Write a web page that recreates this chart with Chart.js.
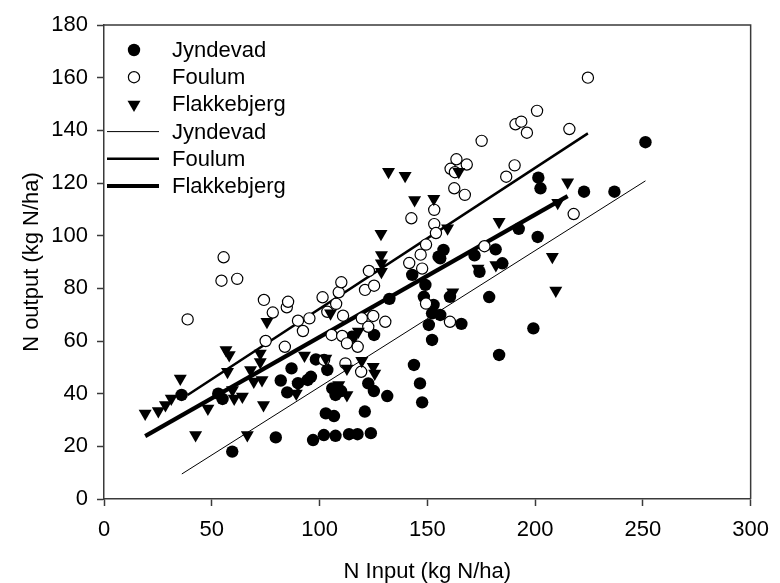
<!DOCTYPE html>
<html>
<head>
<meta charset="utf-8">
<script src="https://cdn.jsdelivr.net/npm/chart.js@4/dist/chart.umd.min.js"></script>
<style>
html,body{margin:0;padding:0;background:#fff;}
#wrap{width:780px;height:583px;position:relative;}
</style>
</head>
<body>
<div id="wrap"><canvas id="c" width="780" height="583"></canvas></div>
<script>
// ---- Data ----
const seriesNames = ["Jyndevad", "Foulum", "Flakkebjerg"];

const jyndevadX = [36,55,53,59.5,79.7,82,85,87,90,94.5,96,97,98.3,102,102.9,103.6,105.9,106.7,107.4,107.4,110,113.7,115,117.6,121,122.6,123.8,125.2,125.3,131.4,132.4,143,143.8,146.6,147.6,148.4,149.1,150.7,152.2,152.2,152.9,155.2,156,156,157.5,160.5,165.8,171.9,174.2,178.7,181.7,183.3,184.8,192.4,199.2,201.2,201.5,202.5,222.7,236.8,251.2];
const jyndevadY = [39.5,38,40,18,23.4,45,40.5,49.6,44,45.2,46.4,22.4,53,24.3,32.5,49,42,31.5,24,39.5,41,24.6,61.6,24.6,33.2,43.9,25,41,62.3,39.1,76,85.1,50.9,43.9,36.7,76.8,81.3,66.1,60.4,70.5,73.7,92,69.9,91.4,94.6,76.8,66.5,92.5,86.3,76.7,94.8,54.7,89.5,102.6,64.8,99.5,122,118,116.7,116.7,135.5];

const foulumX = [38.8,54.5,55.5,61.8,74.2,75,78.3,83.9,84.8,85.4,90,92.3,95.3,101.4,102.1,103.6,105.6,107.7,108.9,110.1,110.5,110.9,112,112.7,117.7,119.3,119.6,121.1,122.6,122.9,124.9,125.3,130.5,141.6,142.6,146.9,147.6,149.4,149.4,153.2,153.2,154,160.5,160.8,162.5,162.8,163.5,167.4,168.3,175.2,176.5,186.6,190.5,190.9,193.6,196.2,200.9,215.9,217.9,224.5];
const foulumY = [68.2,82.9,91.8,83.6,75.6,60,70.8,57.8,72.8,74.9,67.7,63.8,68.6,76.6,52.8,71.1,62.3,74.1,78.5,82.3,61.9,69.6,51.5,59.1,57.8,48.3,68.6,79.4,65.4,86.6,69.5,81,67.3,89.6,106.6,92.8,87.5,96.6,74.2,109.8,104.4,101,67.3,125.4,118,124.1,129,115.5,127,136,96,122.4,126.7,142.3,143.3,139.1,147.4,140.5,108.2,160];

const flakkebjergX = [19.1,25.2,28.5,31.2,35.4,42.5,48.2,56.6,58.1,57.3,59.6,60.4,64.2,66.5,68,69.5,72.5,72.5,73.3,74,75.6,89.2,90,93,102.9,105.1,108.9,112.7,112.7,118,119.6,124.9,125.6,128.5,128.7,128.7,128.7,132,139.7,144.1,153,156,159.4,161.8,164.6,173.5,181.8,183.3,208,209.6,210.5,215.1];
const flakkebjergY = [32.5,33.4,35.7,38.2,45.8,24.3,34.4,56.6,54.7,48.3,41.4,38.2,38.9,24.3,49,44.6,55.3,52,45.2,35.7,67.3,40.1,43.3,54.5,53.4,70.5,43.3,39.5,49.6,63.6,52.5,50.2,47.7,100.7,92.7,89.5,86.3,124.3,122.8,113.5,114,92,102.8,78.5,124.3,87.5,88.9,105.3,92,79.2,112.5,120.3];

// Regression lines: slope, intercept, x-range
const fitSlope     = [0.5175, 0.535, 0.4648];
const fitIntercept = [-9.18, 18.74, 15.02];
const fitXMin      = [36.1, 38.8, 19.1];
const fitXMax      = [251.2, 224.5, 215.1];

const xTicks = [0, 50, 100, 150, 200, 250, 300];
const yTicks = [0, 20, 40, 60, 80, 100, 120, 140, 160, 180];

// ---- Build ----
function pts(xs, ys){ return xs.map((x,i)=>({x:x, y:ys[i]})); }
function fitLine(i){
  return [fitXMin[i], fitXMax[i]].map(x=>({x:x, y:fitIntercept[i] + fitSlope[i]*x}));
}
const FONT = "'Liberation Sans', Arial, sans-serif";
const AXIS = '#3a3a3a';
const lineWidths = [1, 2.5, 4.2];

const datasets = [
  {label: seriesNames[2], data: pts(flakkebjergX, flakkebjergY), pointStyle:'triangle', rotation:180, pointRadius:7.5, backgroundColor:'#000', borderColor:'#000', borderWidth:0},
  {label: seriesNames[1], data: pts(foulumX, foulumY), pointStyle:'circle', pointRadius:5.6, backgroundColor:'#fff', borderColor:'#000', borderWidth:1.2},
  {label: seriesNames[0], data: pts(jyndevadX, jyndevadY), pointStyle:'circle', pointRadius:6.2, backgroundColor:'#000', borderColor:'#000', borderWidth:0},
  {label: seriesNames[0]+' fit', data: fitLine(0), showLine:true, pointRadius:0, borderColor:'#000', borderWidth:lineWidths[0]},
  {label: seriesNames[1]+' fit', data: fitLine(1), showLine:true, pointRadius:0, borderColor:'#000', borderWidth:lineWidths[1]},
  {label: seriesNames[2]+' fit', data: fitLine(2), showLine:true, pointRadius:0, borderColor:'#000', borderWidth:lineWidths[2]}
];

const boxPlugin = {
  id:'box',
  afterDraw(chart){
    const {ctx, chartArea:a} = chart;
    ctx.save();
    ctx.strokeStyle = AXIS; ctx.lineWidth = 1.5;
    ctx.beginPath();
    ctx.moveTo(a.left, a.top); ctx.lineTo(a.right, a.top); ctx.lineTo(a.right, a.bottom);
    ctx.stroke();
    // legend
    const rowH = 27.2, y0 = 50, tx = 172;
    ctx.font = "22px " + FONT;
    ctx.fillStyle = '#000'; ctx.textBaseline = 'middle'; ctx.textAlign = 'left';
    const markerX = 134;
    // markers
    ctx.beginPath(); ctx.arc(markerX, y0, 6.2, 0, Math.PI*2); ctx.fill();
    ctx.beginPath(); ctx.arc(markerX, y0+rowH, 5.6, 0, Math.PI*2); ctx.fillStyle='#fff'; ctx.fill();
    ctx.lineWidth = 1.2; ctx.strokeStyle='#000'; ctx.stroke(); ctx.fillStyle='#000';
    const ty = y0 + 2*rowH, r = 7.5;
    ctx.beginPath();
    ctx.moveTo(markerX, ty + r);
    ctx.lineTo(markerX - r*Math.sin(Math.PI/3), ty - r/2);
    ctx.lineTo(markerX + r*Math.sin(Math.PI/3), ty - r/2);
    ctx.closePath(); ctx.fill();
    for (let i=0;i<3;i++){
      const ly = y0 + (3+i)*rowH;
      ctx.beginPath(); ctx.lineWidth = lineWidths[i];
      ctx.moveTo(107, ly); ctx.lineTo(159, ly); ctx.stroke();
    }
    for (let i=0;i<6;i++){
      ctx.fillText(seriesNames[i%3], tx, y0 + i*rowH + 1);
    }
    ctx.restore();
  }
};

new Chart(document.getElementById('c'), {
  type:'scatter',
  data:{datasets},
  options:{
    responsive:false, animation:false,
    layout:{padding:{top:25, right:17, left:0, bottom:0}},
    plugins:{legend:{display:false}, tooltip:{enabled:false}},
    scales:{
      x:{
        type:'linear', min:0, max:300,
        afterBuildTicks(s){ s.ticks = xTicks.map(v=>({value:v})); },
        afterFit(s){ s.height = 84; },
        grid:{drawOnChartArea:false, drawTicks:true, tickLength:7, color:AXIS, tickWidth:1.5},
        border:{display:true, color:AXIS, width:1.5},
        ticks:{color:'#000', font:{family:FONT, size:22}, padding:11, maxRotation:0},
        title:{display:true, text:'N Input (kg N/ha)', color:'#000', font:{family:FONT, size:22, lineHeight:1}, padding:{top:0,bottom:0}}
      },
      y:{
        type:'linear', min:0, max:180,
        afterBuildTicks(s){ s.ticks = yTicks.map(v=>({value:v})); },
        afterFit(s){ s.width = 104; },
        grid:{drawOnChartArea:false, drawTicks:true, tickLength:7, color:AXIS, tickWidth:1.5},
        border:{display:true, color:AXIS, width:1.5},
        ticks:{color:'#000', font:{family:FONT, size:22}, padding:9},
        title:{display:true, text:'N output (kg N/ha)', color:'#000', font:{family:FONT, size:22, lineHeight:1}, padding:{top:21,bottom:0}}
      }
    }
  },
  plugins:[boxPlugin]
});
</script>
</body>
</html>
